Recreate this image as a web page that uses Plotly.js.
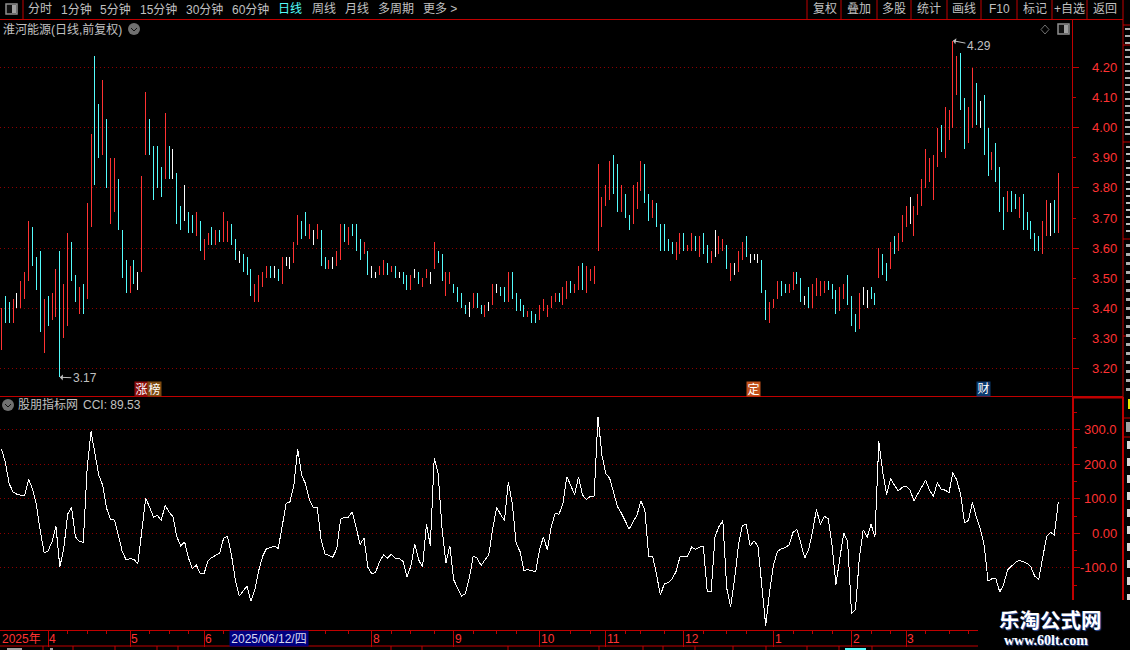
<!DOCTYPE html>
<html>
<head>
<meta charset="utf-8">
<script src="https://cdn.plot.ly/plotly-3.0.1.min.js"></script>
<style>
html, body { margin: 0; padding: 0; background: #000; overflow: hidden; }
#chart { width: 1130px; height: 650px; }
.scatterlayer .js-line { shape-rendering: crispEdges; }
.barlayer path { shape-rendering: crispEdges; }
</style>
</head>
<body>
<div id="chart"></div>
<script>
// daily bars (high / low per bar)
var priceHigh = [
    3.40,3.44,3.42,3.43,3.45,3.49,3.52,3.69,3.67,3.57,
    3.59,3.43,3.44,3.45,3.53,3.59,3.48,3.65,3.62,3.51,
    3.47,3.48,3.75,3.98,4.24,4.08,4.16,4.03,3.90,3.90,
    3.83,3.66,3.56,3.54,3.56,3.52,3.84,4.12,4.03,3.94,
    3.94,3.87,4.05,3.94,3.93,3.85,3.74,3.81,3.72,3.71,
    3.72,3.69,3.63,3.65,3.67,3.66,3.66,3.72,3.69,3.68,
    3.63,3.59,3.58,3.57,3.53,3.48,3.51,3.52,3.54,3.54,
    3.54,3.53,3.57,3.57,3.57,3.62,3.71,3.69,3.72,3.68,
    3.66,3.68,3.66,3.57,3.56,3.57,3.59,3.68,3.68,3.67,
    3.68,3.68,3.63,3.62,3.59,3.54,3.52,
    3.54,3.56,3.55,3.54,3.54,3.52,3.52,3.51,3.51,3.53,
    3.52,3.50,3.53,3.52,3.62,3.59,3.58,3.52,3.52,3.48,
    3.47,3.45,3.41,3.42,3.45,3.45,3.41,3.41,3.42,3.48,
    3.48,3.47,3.47,3.52,3.52,3.45,3.43,3.41,3.39,3.39,
    3.38,3.41,3.43,3.41,3.44,3.45,3.45,3.47,3.49,3.49,
    3.48,3.54,3.55,3.54,3.53,3.54,3.88,3.77,3.81,3.89,
    3.91,3.88,3.81,3.78,3.71,3.81,3.82,3.89,3.88,3.78,
    3.76,3.75,3.68,3.68,3.63,3.62,3.62,3.65,3.65,3.61,
    3.65,3.64,3.64,3.65,3.61,3.59,3.66,3.64,3.63,3.61,
    3.55,3.55,3.59,3.62,3.64,3.58,3.58,3.58,3.56,3.46,
    3.42,3.43,3.49,3.49,3.48,3.48,3.52,3.52,3.50,3.44,
    3.47,3.48,3.50,3.49,3.49,3.49,3.48,3.46,3.47,3.48,
    3.51,3.44,3.38,3.45,3.47,3.46,3.47,3.45,3.60,3.58,
    3.55,3.62,3.64,3.65,3.71,3.74,3.77,3.74,3.78,3.83,
    3.93,3.90,3.91,4.00,4.01,4.07,4.06,4.29,4.24,4.25,
    4.10,4.07,4.20,4.15,4.09,4.11,4.00,3.92,3.95,3.87,
    3.77,3.79,3.79,3.78,3.77,3.78,3.72,3.69,3.65,3.64,
    3.69,3.76,3.75,3.76,3.85
];
var priceLow = [
    3.26,3.35,3.35,3.35,3.40,3.40,3.43,3.49,3.54,3.46,
    3.32,3.25,3.34,3.36,3.37,3.17,3.30,3.34,3.49,3.42,
    3.38,3.38,3.43,3.67,3.81,3.90,3.91,3.80,3.68,3.72,
    3.66,3.50,3.45,3.45,3.48,3.46,3.52,3.91,3.91,3.76,
    3.80,3.77,3.83,3.83,3.83,3.68,3.66,3.69,3.65,3.65,
    3.64,3.59,3.56,3.61,3.61,3.61,3.62,3.62,3.62,3.61,
    3.56,3.55,3.52,3.51,3.44,3.42,3.42,3.47,3.50,3.50,
    3.50,3.49,3.48,3.54,3.53,3.55,3.61,3.63,3.64,3.63,
    3.61,3.63,3.54,3.53,3.53,3.53,3.54,3.56,3.62,3.61,
    3.64,3.59,3.56,3.58,3.51,3.50,3.50,
    3.51,3.51,3.51,3.52,3.50,3.50,3.48,3.46,3.46,3.50,
    3.48,3.47,3.50,3.48,3.53,3.55,3.49,3.44,3.48,3.45,
    3.42,3.40,3.38,3.37,3.40,3.40,3.38,3.37,3.39,3.41,
    3.45,3.44,3.42,3.42,3.43,3.39,3.39,3.37,3.37,3.35,
    3.35,3.36,3.39,3.37,3.40,3.42,3.42,3.41,3.43,3.45,
    3.45,3.46,3.46,3.45,3.49,3.48,3.59,3.67,3.74,3.76,
    3.78,3.72,3.72,3.70,3.66,3.68,3.73,3.79,3.75,3.69,
    3.70,3.67,3.59,3.59,3.59,3.58,3.56,3.58,3.59,3.59,
    3.59,3.59,3.57,3.58,3.55,3.55,3.57,3.58,3.59,3.53,
    3.49,3.51,3.52,3.56,3.57,3.55,3.56,3.55,3.45,3.36,
    3.35,3.40,3.43,3.44,3.45,3.45,3.46,3.48,3.42,3.41,
    3.40,3.40,3.44,3.44,3.45,3.46,3.43,3.38,3.39,3.43,
    3.41,3.34,3.32,3.33,3.41,3.40,3.43,3.41,3.50,3.51,
    3.49,3.53,3.58,3.59,3.62,3.67,3.68,3.64,3.71,3.74,
    3.80,3.82,3.76,3.87,3.92,3.90,3.96,4.00,4.11,4.06,
    3.93,3.95,4.00,4.01,4.00,3.91,3.84,3.86,3.82,3.72,
    3.66,3.72,3.72,3.73,3.70,3.66,3.66,3.63,3.59,3.59,
    3.58,3.64,3.64,3.65,3.65
];
// 1 up, -1 down, 0 flat
var barDir = [
    1,-1,-1,1,0,1,1,1,-1,-1,
    -1,1,-1,1,1,-1,1,1,-1,-1,
    1,-1,1,1,-1,-1,1,-1,1,1,
    -1,-1,-1,1,-1,0,1,1,-1,-1,
    -1,-1,1,-1,0,-1,-1,0,-1,-1,
    1,-1,1,1,-1,1,-1,1,1,-1,
    -1,0,-1,-1,-1,1,1,1,1,-1,
    0,-1,1,0,0,1,1,-1,-1,1,
    0,1,-1,-1,1,0,1,1,-1,1,
    -1,-1,-1,1,-1,0,0,
    1,1,-1,1,-1,0,-1,-1,1,0,
    -1,1,1,0,1,-1,-1,1,1,-1,
    -1,-1,-1,0,1,-1,-1,1,0,1,
    0,-1,-1,1,-1,-1,-1,-1,1,-1,
    -1,1,1,1,1,1,-1,1,1,-1,
    1,1,-1,1,1,1,1,1,1,1,
    -1,-1,1,-1,-1,1,1,1,-1,-1,
    1,-1,-1,-1,-1,-1,1,1,-1,1,
    1,-1,1,-1,-1,1,0,1,1,-1,
    1,0,1,1,-1,0,0,0,-1,-1,
    1,1,1,-1,-1,1,1,-1,-1,0,
    -1,1,1,1,1,-1,-1,-1,1,1,
    -1,-1,-1,1,0,0,-1,-1,1,-1,
    -1,1,-1,1,1,1,0,1,1,1,
    1,1,1,1,-1,1,1,1,1,-1,
    -1,1,1,-1,0,-1,-1,1,-1,-1,
    -1,1,-1,-1,1,-1,-1,-1,-1,-1,
    1,1,0,-1,1
];
var cci = [
    245,207,144,120,113,110,110,156,128,82,
    5,-57,-51,-24,21,-98,-45,55,75,-10,
    -24,-26,187,295,231,168,139,72,41,38,
    -5,-53,-77,-74,-75,-89,5,101,77,47,
    52,37,81,62,48,-10,-37,-25,-72,-103,
    -92,-116,-116,-79,-70,-64,-57,-14,-9,-62,
    -135,-182,-168,-153,-197,-163,-108,-67,-44,-42,
    -37,-44,19,86,91,139,245,168,144,96,
    74,76,-19,-60,-64,-69,-45,41,46,47,
    62,19,-32,-14,-99,-118,-112,
    -82,-63,-72,-61,-72,-72,-82,-126,-96,-32,
    -77,-98,26,-36,218,173,14,-87,-36,-135,
    -159,-182,-175,-130,-66,-72,-93,-77,-62,14,
    75,55,37,149,87,-29,-53,-107,-106,-108,
    -112,-48,-10,-48,19,58,55,87,164,139,
    112,164,111,98,107,108,337,226,173,159,
    115,77,58,34,12,34,53,94,67,-66,
    -66,-120,-179,-146,-143,-132,-111,-69,-66,-66,
    -40,-47,-40,-38,-168,-168,-9,19,37,-159,
    -213,-135,-34,22,26,-37,-22,-37,-163,-268,
    -168,-91,-53,-45,-41,-34,3,11,-29,-72,
    -48,5,69,26,49,43,-34,-149,-72,1,
    -24,-232,-221,-72,10,-12,26,-10,266,178,
    112,159,139,123,133,137,125,95,114,135,
    154,125,107,147,128,125,118,176,154,111,
    29,38,89,48,14,-34,-138,-132,-132,-170,
    -149,-106,-96,-85,-78,-82,-87,-98,-125,-133,
    -72,-10,3,-5,89.53
];

var priceGrid = [3.2, 3.4, 3.6, 3.8, 4.0, 4.2];
var priceOdd = [3.3, 3.5, 3.7, 3.9, 4.1];
var cciGrid = [-100, 0, 100, 200, 300];
var cciMinor = [-150, -50, 50, 150, 250, 350];
var cciLabels = ['-100.0', '0.00', '100.0', '200.0', '300.0'];

// time strip
var monthIdx = [12, 33, 52, 95, 116, 138, 155, 175, 198, 218, 232];
var monthText = ['4', '5', '6', '8', '9', '10', '11', '12', '1', '2', '3'];
var weekIdx = [17, 22, 27, 38, 43, 48, 57, 62, 67, 78, 83, 89, 100, 105, 111, 121, 127, 132, 146, 151, 160, 164, 170, 180, 186, 191, 203, 208, 213, 223, 228, 237, 243, 248, 254, 259];

var toolbarLeft = [['分时', 40], ['1分钟', 76], ['5分钟', 115], ['15分钟', 158], ['30分钟', 204], ['60分钟', 250], ['日线', 290], ['周线', 324], ['月线', 357], ['多周期', 396], ['更多 >', 440]];
var toolbarRight = [['复权', 825], ['叠加', 859], ['多股', 894], ['统计', 929], ['画线', 964], ['F10', 999], ['标记', 1035], ['+自选', 1069], ['返回', 1105]];
var toolbarSeps = [807, 841, 877, 911, 947, 981, 1017, 1052, 1087];
var bottomSeps = [43, 73, 115, 157, 178, 391, 422, 508, 599, 643, 663, 695, 733, 766, 807, 839, 872];

var RED = '#ff3232';
var FRAME = '#c00000';
var GRAY = '#c0c0c0';
var CJK = '"Liberation Sans","Noto Sans CJK SC",sans-serif';

// chrome is placed in page pixels, converted to paper coords
var plotW = 1072, plotBottom = 630, plotH = 610;
function px(v) { return v / plotW; }
function py(v) { return (plotBottom - v) / plotH; }

function label(text, x, y, opts) {
    opts = opts || {};
    return Object.assign({
        text: text, xref: 'paper', yref: 'paper', x: px(opts.anchor == 'left' ? x - 2 : x), y: py(y),
        xanchor: opts.anchor || 'center', yanchor: 'middle', showarrow: false,
        font: { family: CJK, size: opts.size || 12, color: opts.color || GRAY }
    }, opts.extra || {});
}
function hline(x0, x1, y, w, color) {
    return { type: 'line', xref: 'paper', yref: 'paper', x0: px(x0), x1: px(x1), y0: py(y), y1: py(y), line: { color: color || FRAME, width: w || 1 } };
}
function vline(x, y0, y1, w, color) {
    return { type: 'line', xref: 'paper', yref: 'paper', x0: px(x), x1: px(x), y0: py(y0), y1: py(y1), line: { color: color || FRAME, width: w || 1 } };
}
function block(x0, x1, y0, y1, color) {
    return { type: 'rect', xref: 'paper', yref: 'paper', x0: px(x0), x1: px(x1), y0: py(y0), y1: py(y1), fillcolor: color, line: { width: 0 } };
}
function pagePath(points, fill, stroke) {
    var d = points.map(function (p, i) { return (i ? 'L' : 'M') + px(p[0]) + ',' + py(p[1]); }).join(' ');
    return { type: 'path', xref: 'paper', yref: 'paper', path: d, fillcolor: fill || 'rgba(0,0,0,0)', line: { color: stroke || GRAY, width: 1 } };
}
function roundIcon(cx, cy) {
    return [
        { type: 'circle', xref: 'paper', yref: 'paper', x0: px(cx - 6), x1: px(cx + 6), y0: py(cy - 6), y1: py(cy + 6), fillcolor: '#707070', line: { width: 0 } },
        pagePath([[cx - 3, cy - 1], [cx, cy + 2], [cx + 3, cy - 1]], null, '#111111')
    ];
}
function boxIcon(cx, cy) {
    return [
        { type: 'rect', xref: 'paper', yref: 'paper', x0: px(cx - 5), x1: px(cx + 6), y0: py(cy - 5), y1: py(cy + 5), fillcolor: '#101010', line: { color: '#909090', width: 1.5 } },
        block(cx + 1, cx + 5, cy - 4, cy + 4, '#a0a0a0')
    ];
}

var barX = priceHigh.map(function (v, i) { return i; });
var barColors = barDir.map(function (d) { return d > 0 ? '#ff3232' : (d < 0 ? '#54fcfc' : '#fcfcfc'); });
var barSpan = priceHigh.map(function (v, i) { return +(v - priceLow[i]).toFixed(2); });

var trace1 = {
    x: barX, y: barSpan, base: priceLow, type: 'bar', width: 0.2565,
    marker: { color: barColors, line: { width: 0 } },
    xaxis: 'x', yaxis: 'y', hoverinfo: 'skip'
};
var trace2 = {
    x: barX, y: cci, type: 'scatter', mode: 'lines',
    line: { color: '#ffffff', width: 1 },
    xaxis: 'x', yaxis: 'y2', hoverinfo: 'skip'
};

var annotations = [];
toolbarLeft.forEach(function (t) { annotations.push(label(t[0], t[1], 9, t[0] == '日线' ? { color: '#54fcfc' } : {})); });
toolbarRight.forEach(function (t) { annotations.push(label(t[0], t[1], 9)); });
annotations.push(label('淮河能源(日线,前复权)', 3, 29, { anchor: 'left' }));
annotations.push(label('股朋指标网', 18, 405, { anchor: 'left' }));
annotations.push(label('CCI: 89.53', 83, 405, { anchor: 'left' }));

// axis numbers are right aligned, so they go in as annotations on the axes
priceGrid.concat(priceOdd).forEach(function (v) {
    annotations.push({ text: v.toFixed(2), xref: 'paper', yref: 'y', x: px(1119), y: v, xanchor: 'right', yanchor: 'middle', showarrow: false, font: { family: CJK, size: 13, color: RED } });
});
cciGrid.forEach(function (v, i) {
    annotations.push({ text: cciLabels[i], xref: 'paper', yref: 'y2', x: px(1119), y: v, xanchor: 'right', yanchor: 'middle', showarrow: false, font: { family: CJK, size: 13, color: RED } });
});

// high / low markers
annotations.push({ text: '3.17', x: 15, y: 3.17, xref: 'x', yref: 'y', ax: 25, ay: 1, axref: 'pixel', ayref: 'pixel', showarrow: true, arrowhead: 1, arrowsize: 1, arrowwidth: 1, arrowcolor: GRAY, font: { family: CJK, size: 12, color: GRAY } });
annotations.push({ text: '4.29', x: 244, y: 4.29, xref: 'x', yref: 'y', ax: 26, ay: 5, axref: 'pixel', ayref: 'pixel', showarrow: true, arrowhead: 1, arrowsize: 1, arrowwidth: 1, arrowcolor: GRAY, font: { family: CJK, size: 12, color: GRAY } });

// news badges
[['涨', 141, '#8a0c0c'], ['榜', 154, '#7c4a10'], ['定', 753, '#c0501a'], ['财', 983, '#0a3a6e']].forEach(function (b) {
    annotations.push(label(b[0], b[1], 388.5, { color: '#ffffff', extra: { bgcolor: b[2], borderpad: 0, width: 13, height: 14 } }));
});

// time strip text
annotations.push(label('2025年', 2, 638.5, { anchor: 'left', color: RED }));
monthIdx.forEach(function (m, i) {
    annotations.push({ text: monthText[i], xref: 'x', yref: 'paper', x: m, y: py(638.5), xanchor: 'left', xshift: -1, yanchor: 'middle', showarrow: false, font: { family: CJK, size: 12, color: RED } });
});
annotations.push(label('2025/06/12/四', 269, 638.5, { color: '#d8d8f0', extra: { bgcolor: '#000080', borderpad: 0, width: 78, height: 15 } }));

// watermark
annotations.push(label('乐淘公式网', 1050, 619, { size: 20, color: '#ffffff', extra: { font: { family: '"Noto Sans CJK SC"', size: 20.5, color: '#ffffff', weight: 700, shadow: '1px 1px 1px #3050a0' } } }));
annotations.push(label('www.60lt.com', 1046, 640, { extra: { font: { family: '"Liberation Serif"', size: 14, color: '#ffffff', weight: 700, shadow: '1px 1px 1px #3050a0' } } }));

var shapes = [
    hline(0, 1123, 19.5),
    hline(0, 1123, 396.5),
    hline(1072, 1123, 397.5, 2),
    vline(23, 0, 19.5),
    vline(1123, 0, 397),
    vline(1123, 397, 600, 2),
    hline(1123, 1130, 25),
    hline(1123, 1130, 45),
    hline(1123, 1130, 142),
    hline(1123, 1130, 239),
    hline(1123, 1130, 336),
    hline(1123, 1130, 418),
    hline(1123, 1130, 437),
    hline(0, 1072, 646)
];
toolbarSeps.forEach(function (x) { shapes.push(vline(x, 0, 19)); });
bottomSeps.forEach(function (x) { shapes.push(vline(x, 646, 650)); });

// the side panel and the row under the time strip run off the screen; only slivers of them show
var y;
for (y = 28; y < 140; y += 7) { shapes.push(block(1125, 1130, y, y + 2, '#b0b0b0')); }
for (y = 146; y < 236; y += 7) { shapes.push(block(1126, 1130, y, y + 2, '#c0c0c0')); }
for (y = 244; y < 394; y += 9) { shapes.push(block(1125 + (y % 3), 1130, y, y + 3, '#b0b0b0')); }
shapes.push(block(1128, 1130, 399, 409, '#e8e800'));
shapes.push(block(1126, 1130, 422, 432, '#a0a0a0'));
for (y = 441; y < 595; y += 17) { shapes.push(block(1127, 1130, y, y + 8, '#d8d8d8')); }
shapes.push(block(7, 22, 648, 650, '#a0a0a0'));
shapes.push(block(50, 53, 648, 650, '#a0a0a0'));
shapes.push(block(845, 866, 648, 650, '#54fcfc'));

// watermark patch sits over the axes
shapes.push({ type: 'rect', xref: 'paper', yref: 'paper', x0: px(978), x1: px(1130), y0: py(600), y1: py(650), fillcolor: '#000000', line: { width: 0 }, layer: 'above' });
shapes = shapes.concat(roundIcon(134, 29), roundIcon(8, 405), boxIcon(11, 9), boxIcon(1063, 29));
shapes.push(pagePath([[1045, 25], [1049, 29.5], [1045, 34], [1041, 29.5], [1045, 25]], null, '#707070'));

var layout = {
    width: 1130,
    height: 650,
    autosize: false,
    paper_bgcolor: '#000000',
    plot_bgcolor: '#000000',
    showlegend: false,
    hovermode: false,
    margin: { l: 0, r: 58, t: 20, b: 20, pad: 0 },
    font: { family: CJK, color: GRAY, size: 12 },
    xaxis: {
        anchor: 'y2', domain: [0, 1], range: [-0.34, 274.53],
        showgrid: false, zeroline: false, showline: true, linecolor: FRAME, linewidth: 1,
        tickmode: 'array', tickvals: monthIdx, ticks: 'outside', ticklen: 16, tickcolor: FRAME, tickwidth: 1,
        showticklabels: false,
        minor: { tickmode: 'array', tickvals: weekIdx, ticks: 'outside', ticklen: 3, tickcolor: FRAME, tickwidth: 1, showgrid: false }
    },
    yaxis: {
        domain: [0.3828, 1], range: [3.106, 4.359], anchor: 'x', side: 'right',
        showline: true, linecolor: FRAME, linewidth: 1, zeroline: false,
        tickmode: 'array', tickvals: priceGrid, ticks: 'outside', ticklen: 6, tickcolor: FRAME, tickwidth: 1,
        showticklabels: false,
        showgrid: true, gridcolor: '#8c0000', griddash: '1px,3px', gridwidth: 1,
        minor: { tickmode: 'array', tickvals: priceOdd, ticks: 'outside', ticklen: 3, tickcolor: FRAME, tickwidth: 1, showgrid: false }
    },
    yaxis2: {
        domain: [0, 0.382], range: [-280.3, 395.1], anchor: 'x', side: 'right',
        showline: true, linecolor: FRAME, linewidth: 2, zeroline: false,
        tickmode: 'array', tickvals: cciGrid, ticks: 'outside', ticklen: 6, tickcolor: FRAME, tickwidth: 1,
        showticklabels: false,
        showgrid: true, gridcolor: '#8c0000', griddash: '1px,3px', gridwidth: 1,
        minor: { tickmode: 'array', tickvals: cciMinor, ticks: 'outside', ticklen: 3, tickcolor: FRAME, tickwidth: 1, showgrid: false }
    },
    annotations: annotations,
    shapes: shapes
};

Plotly.newPlot('chart', [trace1, trace2], layout, { displayModeBar: false, staticPlot: true });
</script>
</body>
</html>
